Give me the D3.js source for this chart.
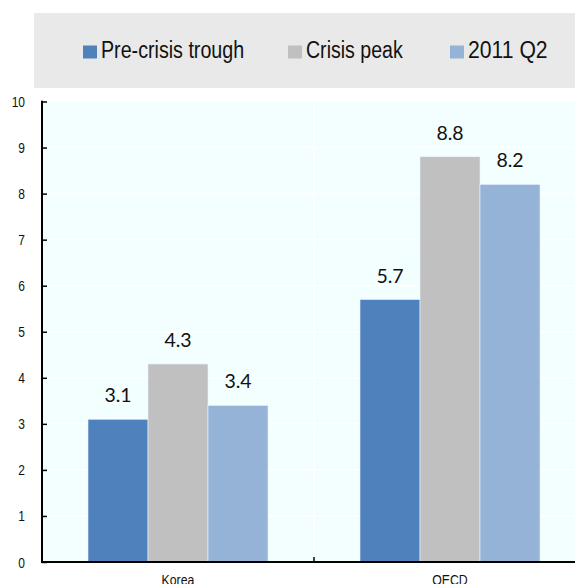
<!DOCTYPE html>
<html><head><meta charset="utf-8">
<script src="https://cdn.jsdelivr.net/npm/d3@7"></script>
<style>body{margin:0;background:#fff}svg{display:block}</style>
</head><body>
<svg id="c" width="575" height="584"></svg>
<script>
const categories = ["Korea", "OECD"];
const series = ["Pre-crisis trough", "Crisis peak", "2011 Q2"];
const preCrisis = [3.1, 5.7];
const crisisPeak = [4.3, 8.8];
const q2_2011 = [3.4, 8.2];
const yTicks = [0,1,2,3,4,5,6,7,8,9,10];
const colors = ["#4F81BD", "#C0C0C0", "#95B3D7"];
const values = [preCrisis, crisisPeak, q2_2011];

const svg = d3.select("#c");
const narrow = (sel, f) => sel.each(function(){ const L=this.getComputedTextLength(); d3.select(this).attr("textLength", L*f).attr("lengthAdjust","spacingAndGlyphs"); });

// legend box
svg.append("rect").attr("x",34).attr("y",13).attr("width",560).attr("height",75).attr("fill","#E9E9E9");
const legX = [83, 288, 450];
const legFactor = [0.855, 0.85, 0.92];
series.forEach((s,i)=>{
  svg.append("rect").attr("x",legX[i]).attr("y",45.5).attr("width",14).attr("height",13).attr("fill",colors[i]);
  svg.append("text").attr("x",legX[i]+18).attr("y",58.3).attr("font-family","Liberation Sans, Arial, sans-serif")
    .attr("font-size",23).attr("fill","#111").text(s).call(narrow,legFactor[i]);
});

const x0 = d3.scaleBand().domain(categories).range([42, 586]).padding(0);
const x1 = d3.scaleBand().domain(series).range([(x0.bandwidth()-180)/2, (x0.bandwidth()+180)/2]).padding(0);
const y = d3.scaleLinear().domain([0,10]).range([562, 101.5]);

// plot background
svg.append("rect").attr("x",42).attr("y",y(10)).attr("width",575-42).attr("height",y(0)-y(10)).attr("fill","#F3FEFF");
// gridlines
svg.append("g").selectAll("line").data(yTicks.filter(d=>d>0&&d<10)).join("line")
  .attr("x1",42).attr("x2",575).attr("y1",d=>y(d)).attr("y2",d=>y(d)).attr("stroke","#fff").attr("stroke-width",1.5);
svg.append("line").attr("x1",x0("OECD")).attr("x2",x0("OECD")).attr("y1",y(10)).attr("y2",y(0))
  .attr("stroke","#fff").attr("stroke-width",1.5);

// bars
const g = svg.append("g");
categories.forEach((c,ci)=>{
  series.forEach((s,si)=>{
    const v = values[si][ci];
    g.append("rect").attr("x",x0(c)+x1(s)).attr("width",x1.bandwidth()).attr("y",y(v)).attr("height",y(0)-y(v))
      .attr("fill",colors[si]).attr("stroke","#EAF4FF").attr("stroke-width",0.6);
    g.append("text").attr("x",x0(c)+x1(s)+x1.bandwidth()/2).attr("y",y(v)-17).attr("text-anchor","middle")
      .attr("font-family","Lato, Open Sans, sans-serif").attr("font-size",19.5).attr("fill","#111").text(v.toFixed(1));
  });
});

// y axis
const yAxis = svg.append("g").attr("transform","translate(42,0)")
  .call(d3.axisRight(y).tickValues(yTicks).tickSize(5).tickFormat(""));
yAxis.select(".domain").remove();
yAxis.selectAll("line").attr("stroke","#000").attr("stroke-width",1.5);
svg.append("line").attr("x1",42).attr("x2",42).attr("y1",y(10)-0.75).attr("y2",y(0)+1).attr("stroke","#000").attr("stroke-width",2);
svg.append("g").selectAll("text").data(yTicks).join("text")
  .attr("x",25).attr("y",d=>y(d)+5.5).attr("text-anchor","end")
  .attr("font-family","Liberation Sans, Arial, sans-serif").attr("font-size",15).attr("fill","#111")
  .text(d=>d).call(narrow,0.8);

// x axis
svg.append("line").attr("x1",41).attr("x2",575).attr("y1",y(0)).attr("y2",y(0)).attr("stroke","#000").attr("stroke-width",2);
svg.append("line").attr("x1",x0("OECD")).attr("x2",x0("OECD")).attr("y1",y(0)).attr("y2",y(0)-5).attr("stroke","#000").attr("stroke-width",1.5);
svg.append("g").selectAll("text").data(categories).join("text")
  .attr("x",d=>x0(d)+x0.bandwidth()/2).attr("y",584.5).attr("text-anchor","middle")
  .attr("font-family","Liberation Sans, Arial, sans-serif").attr("font-size",15).attr("fill","#111")
  .text(d=>d).call(narrow,0.82);
</script>
</body></html>
